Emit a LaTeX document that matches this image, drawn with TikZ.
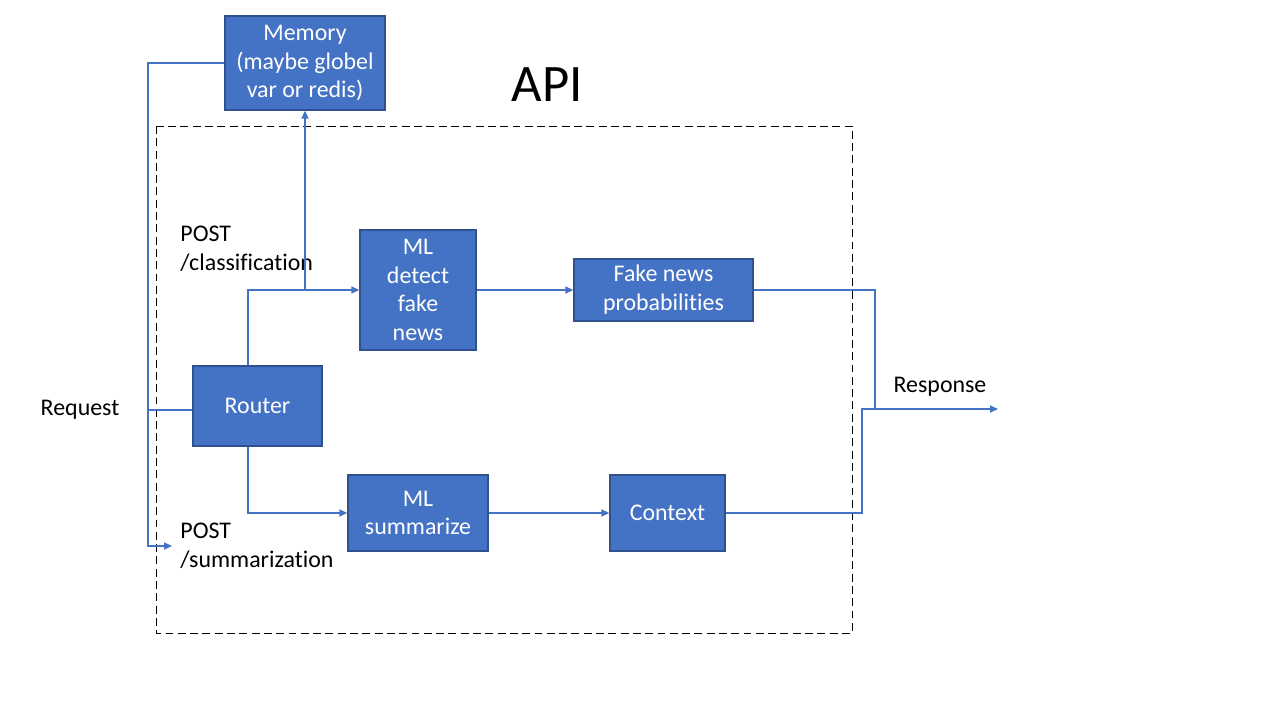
\documentclass[tikz,border=0pt]{standalone}
\usepackage{fontspec}
\setmainfont{Carlito}[Ligatures=NoCommon]
\usetikzlibrary{%
  arrows.meta,%
  positioning,%
  calc%
}
\definecolor{boxblue}{HTML}{4472C4}
\definecolor{boxedge}{HTML}{2F528F}

\begin{document}
\begin{tikzpicture}[
  x=0.02cm, y=-0.02cm,
  font=\fontsize{13.6}{16.4}\selectfont,
  >={Triangle[length=4.5pt,width=4pt]},
  line width=0.6pt,
  block/.style={draw=boxedge, fill=boxblue, text=white, align=center,
    inner sep=2pt, line width=0.8pt},
  link/.style={draw=boxblue, line width=0.7pt},
  label/.style={align=left, anchor=west, inner sep=4.5pt},
]
\useasboundingbox (0,0) rectangle (1280,720);

% API frame
\draw[dashed, dash pattern=on 4.5pt off 2.5pt, line width=0.5pt]
  (156,126) rectangle (852,633);
\node (api) at (547,85) {\fontsize{30}{36}\selectfont API};

% blocks
\node[block, minimum width=3.2cm, minimum height=1.88cm] (memory) at (305,63)
  {Memory\\(maybe globel\\var or redis)};
\node[block, minimum width=2.58cm, minimum height=1.6cm] (router) at (257.5,406) {Router};
\node[block, minimum width=2.32cm, minimum height=2.4cm] (mldetect) at (418,290)
  {ML\\detect\\fake\\news};
\node[block, minimum width=3.58cm, minimum height=1.24cm] (fakeprob) at (663.5,290)
  {Fake news\\probabilities};
\node[block, minimum width=2.8cm, minimum height=1.52cm] (mlsum) at (418,513)
  {ML\\summarize};
\node[block, minimum width=2.3cm, minimum height=1.52cm] (context) at (667.5,513) {Context};

% texts
\node (request) at (80,410) {Request};
\node[label] (postcls) at (172,249) {POST\\/classification};
\node[label] (postsum) at (172,546) {POST\\/summarization};
\node (response) at (940,387) {Response};

\coordinate (split) at (305,290);
\coordinate (join) at (875,409);
\coordinate (respend) at (998,409);

% connectors
\draw[link, shorten <=12pt] (request.east) -- (request.east -| router.west);
\draw[link, ->] ([xshift=-9.5*0.02cm]router.north) |- (mldetect.west);
\draw[link, ->] (split) -- (memory.south);
\draw[link, ->] ([xshift=-9.5*0.02cm]router.south) |- (mlsum.west);
\draw[link, ->] (memory.west) -| (148,546) -- (postsum.west);
\draw[link, ->] (mldetect.east) -- (fakeprob.west);
\draw[link, ->] (mlsum.east) -- (context.west);
\draw[link] (fakeprob.east) -| (join);
\draw[link] (context.east) -| (862,409) -- (join);
\draw[link, ->] (join) -- (respend);

\end{tikzpicture}
\end{document}
